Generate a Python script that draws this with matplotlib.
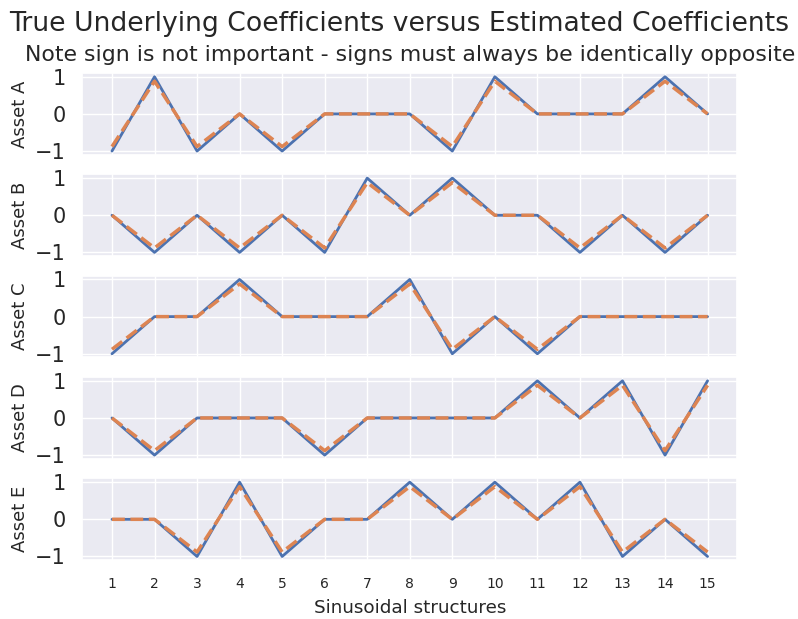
import matplotlib
matplotlib.use("Agg")
import matplotlib.pyplot as plt
import seaborn as sns

# sinusoidal structure index
structures = list(range(1, 16))
assets = ["Asset A", "Asset B", "Asset C", "Asset D", "Asset E"]

# true coefficients per asset
true_a = [-1, 1, -1, 0, -1, 0, 0, 0, -1, 1, 0, 0, 0, 1, 0]
true_b = [0, -1, 0, -1, 0, -1, 1, 0, 1, 0, 0, -1, 0, -1, 0]
true_c = [-1, 0, 0, 1, 0, 0, 0, 1, -1, 0, -1, 0, 0, 0, 0]
true_d = [0, -1, 0, 0, 0, -1, 0, 0, 0, 0, 1, 0, 1, -1, 1]
true_e = [0, 0, -1, 1, -1, 0, 0, 1, 0, 1, 0, 1, -1, 0, -1]

# estimated coefficients
est_a = [-0.88, 0.88, -0.88, 0, -0.88, 0, 0, 0, -0.88, 0.88, 0, 0, 0, 0.88, 0]
est_b = [0, -0.88, 0, -0.88, 0, -0.88, 0.88, 0, 0.88, 0, 0, -0.88, 0, -0.88, 0]
est_c = [-0.88, 0, 0, 0.88, 0, 0, 0, 0.88, -0.88, 0, -0.88, 0, 0, 0, 0]
est_d = [0, -0.88, 0, 0, 0, -0.88, 0, 0, 0, 0, 0.88, 0, 0.88, -0.88, 0.88]
est_e = [0, 0, -0.88, 0.88, -0.88, 0, 0, 0.88, 0, 0.88, 0, 0.88, -0.88, 0, -0.88]

true_all = [true_a, true_b, true_c, true_d, true_e]
est_all = [est_a, est_b, est_c, est_d, est_e]

sns.set_theme(style="darkgrid")
plt.rcParams["font.family"] = ["DejaVu Sans"]

fig, axes = plt.subplots(5, 1, sharex=True, figsize=(7.98, 6.19), dpi=100)
fig.subplots_adjust(left=0.103, right=0.924, top=0.882, bottom=0.095, hspace=0.24)

for ax, name, t, e in zip(axes, assets, true_all, est_all):
    ax.plot(structures, t, color="#4C72B0", lw=2)
    ax.plot(structures, e, color="#DD8452", lw=2.5, ls="--")
    ax.set_yticks([-1, 0, 1])
    ax.tick_params(axis="y", labelsize=15, pad=6)
    ax.set_ylabel(name, fontsize=13, labelpad=4)

axes[0].set_title("Note sign is not important - signs must always be identically opposite",
                  fontsize=15.8, pad=9)
fig.suptitle("True Underlying Coefficients versus Estimated Coefficients", fontsize=19.2, y=0.983)
axes[-1].set_xticks(structures)
axes[-1].tick_params(axis="x", labelsize=10, pad=6)
axes[-1].set_xlabel("Sinusoidal structures", fontsize=13.2, labelpad=6)

fig.savefig("out.png", dpi=100)
